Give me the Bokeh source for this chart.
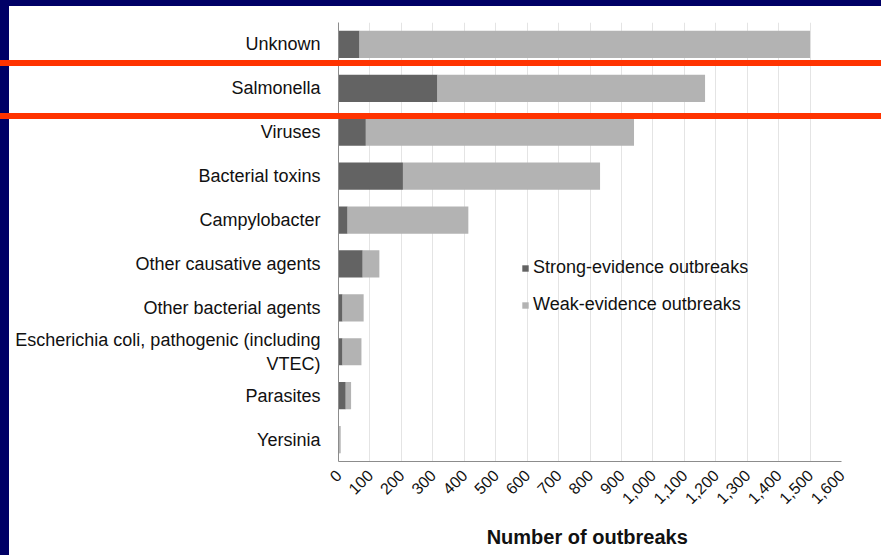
import math
from bokeh.plotting import figure
from bokeh.models import (ColumnDataSource, FactorRange, Range1d,
                          NumeralTickFormatter, FixedTicker, Legend)
from bokeh.embed import file_html
from bokeh.resources import INLINE

# ---- data ----
categories = ["Unknown", "Salmonella", "Viruses", "Bacterial toxins", "Campylobacter",
              "Other causative agents", "Other bacterial agents",
              "Escherichia coli, pathogenic (including\nVTEC)", "Parasites", "Yersinia"]
strong_evidence = [67, 315, 87, 205, 29, 77, 13, 13, 23, 3]
weak_evidence = [1433, 851, 853, 627, 384, 53, 67, 60, 17, 4]
x_ticks = list(range(0, 1700, 100))
series_names = ["Strong-evidence outbreaks", "Weak-evidence outbreaks"]

FONT = "Liberation Sans"
W, H = 881, 555
FL, FB = 338, 461  # frame left / bottom in canvas pixels

src = ColumnDataSource(dict(cat=categories, strong=strong_evidence, weak=weak_evidence))

p = figure(width=W, height=H, output_backend="svg", toolbar_location=None,
           y_range=FactorRange(*reversed(categories)), x_range=Range1d(0, 1600),
           min_border_left=FL, min_border_right=40, min_border_top=22, min_border_bottom=H - FB)
p.outline_line_color = None
p.background_fill_alpha = 0
p.border_fill_alpha = 0

rs = p.hbar_stack(["strong", "weak"], y="cat", height=0.62, source=src,
                  color=["#636363", "#b3b3b3"], line_color=None)

# axes
p.xaxis.ticker = FixedTicker(ticks=x_ticks)
p.xaxis.formatter = NumeralTickFormatter(format="0,0")
p.xaxis.major_label_orientation = math.pi / 4
p.xaxis.major_label_text_font = FONT
p.xaxis.major_label_text_font_size = "16px"
p.xaxis.major_label_text_color = "#111111"
p.xaxis.major_tick_line_color = None
p.xaxis.minor_tick_line_color = None
p.xaxis.axis_line_color = "#8c8c8c"
p.xaxis.axis_label = "Number  of outbreaks"
p.xaxis.axis_label_text_font = FONT
p.xaxis.axis_label_text_font_style = "bold"
p.xaxis.axis_label_text_font_size = "20px"
p.xaxis.axis_label_text_color = "#111111"
p.xaxis.axis_label_standoff = 14

p.yaxis.major_label_text_font = FONT
p.yaxis.major_label_text_font_size = "18px"
p.yaxis.major_label_text_color = "#111111"
p.yaxis.major_tick_line_color = None
p.yaxis.minor_tick_line_color = None
p.yaxis.axis_line_color = "#8c8c8c"
p.yaxis.major_label_standoff = 12

p.xgrid.grid_line_color = "#e4e4e4"
p.ygrid.grid_line_color = None

legend = Legend(items=[(series_names[0], [rs[0]]), (series_names[1], [rs[1]])],
                location=(183, 146), orientation="vertical",
                glyph_width=8, glyph_height=8, label_height=20, label_standoff=4,
                spacing=16, padding=0, margin=0, border_line_color=None,
                background_fill_alpha=0, label_text_font=FONT,
                label_text_font_size="18px", label_text_color="#111111")
p.add_layout(legend, "center")

# navy slide frame (left and top edges) and the two red highlight lines,
# painted by CSS layers on the figure's host element
RED, NAVY = "#ff3300", "#000066"
layers = [(RED, f"{W}px 6px", "0px 60px"),
          (RED, f"{W}px 6px", "0px 113px"),
          (NAVY, f"9px {H}px", "0px 0px"),
          (NAVY, f"{W}px 6px", "0px 0px")]
imgs = ", ".join(f"linear-gradient({c}, {c})" for c, _, _ in layers)
sizes = ", ".join(s for _, s, _ in layers)
poss = ", ".join(q for _, _, q in layers)
deco = (f"background-image: {imgs}; background-size: {sizes}; "
        f"background-position: {poss}; background-repeat: no-repeat;")
p.stylesheets = [
    ":host { position: relative; overflow: hidden; background-color: white; " + deco + " }",
    ":host::after { content: ''; position: absolute; left: 0; top: 0; "
    f"width: {W}px; height: {H}px; pointer-events: none; z-index: 1000; " + deco + " }",
]

open("out.html", "w").write(file_html(p, INLINE))
